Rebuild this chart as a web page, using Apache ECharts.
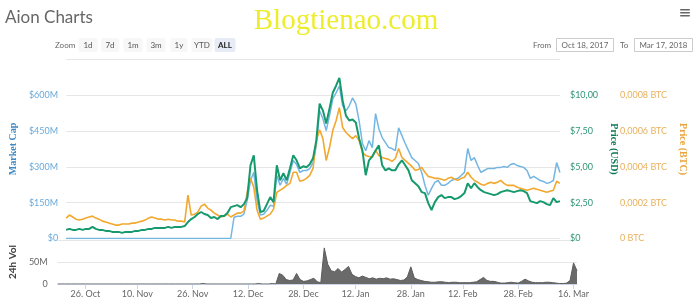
<!DOCTYPE html>
<html><head><meta charset="utf-8">
<script src="https://cdn.jsdelivr.net/npm/echarts/dist/echarts.min.js"></script>
<style>html,body{margin:0;padding:0;background:#fff}#c{width:696px;height:306px}</style>
</head><body><div id="c"></div>
<script>
// Daily data, 18 Oct 2017 .. 17 Mar 2018 (151 days)
const startYear = 2017, startMonth = 9, startDay = 18, dayCount = 151;
const monthNames = ['Jan','Feb','Mar','Apr','May','Jun','Jul','Aug','Sep','Oct','Nov','Dec'];
const tickLabels = ['26. Oct','10. Nov','26. Nov','12. Dec','28. Dec','12. Jan','28. Jan','12. Feb','28. Feb','16. Mar'];

// Price (USD)
const priceUsd = [
0.60,0.67,0.60,0.60,0.67,0.60,0.67,0.67,0.81,0.67,
0.60,0.60,0.53,0.53,0.46,0.46,0.46,0.39,0.46,0.46,
0.46,0.53,0.53,0.60,0.60,0.67,0.67,0.74,0.74,0.74,
0.74,0.81,0.74,0.81,0.81,0.81,0.87,1.15,1.36,1.50,
1.71,1.85,1.71,1.64,1.43,1.50,1.36,1.57,1.57,1.78,
2.19,2.26,2.33,2.19,2.40,2.82,5.11,5.81,3.37,1.85,
1.92,2.40,2.89,2.54,5.11,4.07,4.56,4.07,4.90,5.81,
5.46,4.90,5.04,4.97,5.18,5.60,6.85,9.42,8.93,8.03,
9.07,10.18,10.67,11.22,9.62,8.58,8.24,8.31,8.10,6.99,
6.15,4.42,5.46,5.74,6.15,6.50,5.11,4.76,4.90,4.76,
4.76,5.18,5.46,5.11,4.76,4.07,3.86,3.65,3.24,3.17,
2.47,1.99,2.54,2.89,3.03,2.82,2.89,2.89,2.75,2.82,
2.96,3.17,3.86,3.51,3.86,3.58,3.37,3.24,3.17,3.10,
3.03,3.10,3.24,3.31,3.37,3.31,3.24,3.31,3.37,3.31,
3.17,2.61,2.54,2.47,2.61,2.54,2.40,2.33,2.82,2.54,
2.61];

// Price (BTC), in BTC
const priceBtc = [
0.000114,0.000131,0.000120,0.000108,0.000103,0.000108,0.000114,0.000120,0.000125,0.000114,
0.000108,0.000097,0.000092,0.000086,0.000081,0.000075,0.000075,0.000081,0.000081,0.000081,
0.000086,0.000086,0.000092,0.000097,0.000103,0.000114,0.000120,0.000114,0.000108,0.000108,
0.000103,0.000108,0.000103,0.000103,0.000097,0.000097,0.000092,0.000242,0.000131,0.000136,
0.000147,0.000181,0.000192,0.000170,0.000158,0.000142,0.000131,0.000120,0.000125,0.000136,
0.000120,0.000131,0.000142,0.000142,0.000153,0.000258,0.000336,0.000286,0.000158,0.000108,
0.000114,0.000125,0.000136,0.000164,0.000258,0.000270,0.000281,0.000297,0.000308,0.000370,
0.000370,0.000320,0.000325,0.000336,0.000353,0.000392,0.000547,0.000608,0.000558,0.000436,
0.000508,0.000603,0.000658,0.000731,0.000620,0.000592,0.000575,0.000558,0.000575,0.000547,
0.000481,0.000464,0.000458,0.000453,0.000492,0.000464,0.000453,0.000447,0.000442,0.000431,
0.000447,0.000503,0.000453,0.000436,0.000420,0.000403,0.000381,0.000386,0.000397,0.000370,
0.000347,0.000342,0.000336,0.000336,0.000331,0.000325,0.000336,0.000342,0.000331,0.000325,
0.000336,0.000342,0.000370,0.000342,0.000325,0.000314,0.000303,0.000297,0.000308,0.000314,
0.000308,0.000314,0.000325,0.000308,0.000297,0.000297,0.000297,0.000286,0.000281,0.000275,
0.000270,0.000275,0.000281,0.000275,0.000270,0.000264,0.000258,0.000264,0.000270,0.000320,
0.000308];

// Market cap, millions USD
const marketCap = [
0,0,0,0,0,0,0,0,0,0,
0,0,0,0,0,0,0,0,0,0,
0,0,0,0,0,0,0,0,0,0,
0,0,0,0,0,0,0,0,0,0,
0,0,0,0,0,0,0,0,0,0,
0,89,93,93,102,160,243,277,160,98,
102,118,139,135,264,223,252,227,277,327,
310,277,285,285,293,318,389,535,502,452,
514,585,610,639,556,535,556,589,564,493,
398,368,410,381,523,460,423,402,381,377,
368,464,431,398,368,339,327,314,277,223,
181,210,235,243,223,223,231,243,248,252,
264,277,377,327,339,306,277,285,293,293,
293,298,298,302,298,310,314,306,302,298,
285,252,260,252,243,239,231,235,243,318,
277];

// 24h volume, millions USD
const volume24h = [
0,0,0,0,0,0,0,0,0,0,
0,0,0,0,0,0,0,0,0,0,
0,0,0,0,0,0,0,0,0,0,
0,0,0,0,0,0,0,0,0,0,
0,0,1,0,0,0,0,0,0,0,
0,0,0,0,0,0,0,0,1,0,
0,0,1,0,24,20,10,8,9,24,
10,6,7,10,13,5,3,82,45,30,
28,35,27,33,40,22,17,14,18,15,
12,14,11,13,12,14,11,12,10,8,
9,16,39,14,10,8,6,5,4,4,
5,5,4,3,4,4,3,3,3,3,
4,5,10,15,8,6,6,4,2,2,
3,4,3,2,6,11,7,4,3,3,
3,4,4,3,2,1,1,2,8,48,
30];

const categories = [];
for (let i = 0; i < dayCount; i++) {
  const d = new Date(Date.UTC(startYear, startMonth, startDay) + i * 86400000);
  categories.push(d.getUTCDate() + '. ' + monthNames[d.getUTCMonth()]);
}
const isTick = (idx, val) => tickLabels.indexOf(categories[idx]) >= 0;

const FONT = 'Lato, "Open Sans", sans-serif';
const SERIF = '"Liberation Serif", "DejaVu Serif", serif';

function txt(x, y, text, fill, font, align, valign) {
  return {type:'text', x:x, y:y, silent:true,
    style:{text:text, fill:fill, font:font, align:align||'left', verticalAlign:valign||'middle',
           textAlign:align||'left', textVerticalAlign:valign||'middle'}};
}
function box(x, y, w, h, fill, stroke) {
  return {type:'rect', shape:{x:x, y:y, width:w, height:h, r:stroke?0:2}, silent:true,
    style:{fill:fill, stroke:stroke||null, lineWidth:stroke?1:0}};
}

const graphics = [
  txt(5, 18, 'Aion Charts', '#666', '17px ' + FONT),
  txt(346, 21, 'Blogtienao.com', '#eded2c', '29px ' + SERIF, 'center'),
  txt(55, 45, 'Zoom', '#666', '8px ' + FONT),
];
const btns = [['1d',88,19],['7d',110,18],['1m',133,19],['3m',156,19],['1y',179,17],['YTD',202,21],['ALL',225,21]];
btns.forEach(b => {
  const sel = b[0] === 'ALL';
  graphics.push(box(b[1] - b[2]/2, 38, b[2], 14, sel ? '#e6ebf5' : '#f7f7f7'));
  graphics.push(txt(b[1], 45, b[0], sel ? '#222' : '#555', (sel ? 'bold ' : '') + '8px ' + FONT, 'center'));
});
graphics.push(txt(533, 45, 'From', '#666', '8px ' + FONT));
graphics.push(box(556.5, 38.5, 57, 13, '#fff', '#ccc'));
graphics.push(txt(585, 45, 'Oct 18, 2017', '#666', '8px ' + FONT, 'center'));
graphics.push(txt(620, 45, 'To', '#666', '8px ' + FONT));
graphics.push(box(634.5, 38.5, 58, 13, '#fff', '#ccc'));
graphics.push(txt(663.5, 45, 'Mar 17, 2018', '#666', '8px ' + FONT, 'center'));
[9, 12, 15].forEach(y => graphics.push(box(680, y, 10, 1.6, '#666')));

const gridLine = {show:true, lineStyle:{color:'#e6e6e6', width:1}};
const labelFont = {fontSize:9, fontFamily:FONT};

const option = {
  animation:false,
  backgroundColor:'#fff',
  graphic:graphics,
  grid:[
    {left:53, right:119, top:59.5, height:179},
    {left:53, right:119, top:240, height:44}
  ],
  xAxis:[
    {type:'category', gridIndex:0, data:categories, boundaryGap:false,
     axisLine:{show:false}, axisTick:{show:false}, axisLabel:{show:false}},
    {type:'category', gridIndex:1, data:categories, boundaryGap:false,
     axisLine:{show:true, lineStyle:{color:'#ccd6eb'}},
     axisTick:{show:true, interval:isTick, length:5, lineStyle:{color:'#ccd6eb'}},
     axisLabel:Object.assign({interval:isTick, color:'#666', margin:6}, labelFont)}
  ],
  yAxis:[
    {type:'value', gridIndex:0, position:'left', min:0, max:750, interval:150,
     axisLine:{show:false}, axisTick:{show:false}, splitLine:gridLine,
     axisLabel:Object.assign({color:'#6aa9da', margin:8, showMaxLabel:false,
       formatter:v => v >= 750 ? '' : (v === 0 ? '$0' : '$' + v + 'M')}, labelFont),
     name:'Market Cap', nameLocation:'middle', nameGap:36, nameRotate:90,
     nameTextStyle:{color:'#3f89c4', fontSize:10, fontFamily:SERIF, fontWeight:'bold'}},
    {type:'value', gridIndex:0, position:'right', min:0, max:12.5, interval:2.5,
     axisLine:{show:false}, axisTick:{show:false}, splitLine:{show:false},
     axisLabel:Object.assign({color:'#2f9576', margin:10, showMaxLabel:false,
       formatter:v => v >= 12.5 ? '' : (v === 0 ? '$0' : '$' + v.toFixed(2).replace('.', ','))}, labelFont),
     name:'Price (USD)', nameLocation:'middle', nameGap:44, nameRotate:-90,
     nameTextStyle:{color:'#0f7a57', fontSize:10, fontFamily:SERIF, fontWeight:'bold'}},
    {type:'value', gridIndex:0, position:'right', offset:50, min:0, max:0.001, interval:0.0002,
     axisLine:{show:false}, axisTick:{show:false}, splitLine:{show:false},
     axisLabel:Object.assign({color:'#e8b15e', margin:10, showMaxLabel:false,
       formatter:v => v >= 0.001 - 1e-9 ? '' : (v === 0 ? '0 BTC' : '0,000' + Math.round(v * 10000) + ' BTC')}, labelFont),
     name:'Price (BTC)', nameLocation:'middle', nameGap:55, nameRotate:-90,
     nameTextStyle:{color:'#e9a53d', fontSize:10, fontFamily:SERIF, fontWeight:'bold'}},
    {type:'value', gridIndex:1, position:'left', min:0, max:100, interval:50,
     axisLine:{show:false}, axisTick:{show:false}, splitLine:gridLine,
     axisLabel:Object.assign({color:'#666', margin:10, showMaxLabel:false,
       formatter:v => v >= 100 ? '' : (v === 0 ? '0' : v + 'M')}, labelFont),
     name:'24h Vol', nameLocation:'middle', nameGap:30, nameRotate:90,
     nameTextStyle:{color:'#444', fontSize:10, fontFamily:FONT, fontWeight:'bold'}}
  ],
  series:[
    {name:'Market Cap', type:'line', xAxisIndex:0, yAxisIndex:0, data:marketCap,
     symbol:'none', lineStyle:{color:'#74b6e2', width:1.5}, itemStyle:{color:'#74b6e2'}, z:2},
    {name:'Price (BTC)', type:'line', xAxisIndex:0, yAxisIndex:2, data:priceBtc,
     symbol:'none', lineStyle:{color:'#f2a82e', width:1.6}, itemStyle:{color:'#f2a82e'}, z:3},
    {name:'Price (USD)', type:'line', xAxisIndex:0, yAxisIndex:1, data:priceUsd,
     symbol:'none', lineStyle:{color:'#16996d', width:2}, itemStyle:{color:'#16996d'}, z:4},
    {name:'24h Vol', type:'line', xAxisIndex:1, yAxisIndex:3, data:volume24h,
     symbol:'none', lineStyle:{color:'#5c5c5c', width:1}, itemStyle:{color:'#5c5c5c'},
     areaStyle:{color:'#6a6a6a', opacity:1}}
  ]
};
const chart = echarts.init(document.getElementById('c'), null, {renderer:'canvas'});
chart.setOption(option);
</script></body></html>
